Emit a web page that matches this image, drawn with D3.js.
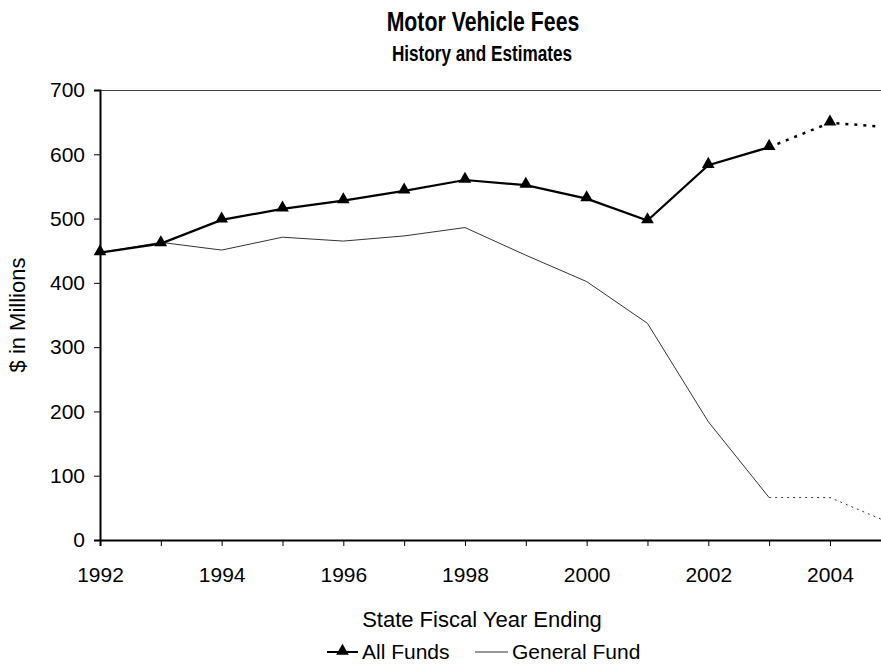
<!DOCTYPE html>
<html>
<head>
<meta charset="utf-8">
<script src="https://cdn.jsdelivr.net/npm/d3@7"></script>
<style>
  body { margin: 0; background: #fff; }
  svg { display: block; font-family: "Liberation Sans", Arial, sans-serif; }
</style>
</head>
<body>
<svg id="chart" width="881" height="669"></svg>
<script>
const years = [1992, 1993, 1994, 1995, 1996, 1997, 1998, 1999, 2000, 2001, 2002, 2003, 2004, 2005];
const allFunds = [447, 461, 498, 515, 528, 543, 560, 552, 531, 497, 583, 611, 649, 642];
const generalFund = [447, 463, 451, 471, 465, 473, 486, 443, 402, 337, 184, 66, 66, 26];
const lastActualYear = 2003;
const yTicks = [0, 100, 200, 300, 400, 500, 600, 700];
const xTickLabels = [1992, 1994, 1996, 1998, 2000, 2002, 2004];
const titleText = "Motor Vehicle Fees";
const subtitleText = "History and Estimates";
const xTitle = "State Fiscal Year Ending";
const yTitle = "$ in Millions";
const seriesNames = ["All Funds", "General Fund"];

(function () {
const svg = d3.select("#chart");
const pL = 100, pR = 100 + 13 * 60.83, pT = 90, pB = 540;
const FS = 21;

const x = d3.scaleLinear().domain([1992, 2005]).range([pL, pR]);
const y = d3.scaleLinear().domain([0, 700]).range([pB, pT]);

// top border
svg.append("line").attr("x1", pL).attr("x2", pR).attr("y1", pT + 0.5).attr("y2", pT + 0.5)
  .attr("stroke", "#444").attr("stroke-width", 1.2);

// y axis
const yAxis = svg.append("g").attr("transform", `translate(${pL},0)`)
  .call(d3.axisLeft(y).tickValues(yTicks).tickSize(6).tickPadding(9).tickFormat(d3.format("d")));
yAxis.select(".domain").attr("stroke", "#000").attr("stroke-width", 2);
yAxis.selectAll(".tick line").attr("stroke", "#000");
yAxis.selectAll("text").attr("font-size", FS).attr("fill", "#000").attr("font-family", "Liberation Sans, Arial, sans-serif");

// x axis
const xAxis = svg.append("g").attr("transform", `translate(0,${pB})`)
  .call(d3.axisBottom(x).tickValues(years).tickSize(6).tickPadding(21)
    .tickFormat(d => xTickLabels.includes(d) ? String(d) : ""));
xAxis.select(".domain").attr("stroke", "#000").attr("stroke-width", 2);
xAxis.selectAll(".tick line").attr("stroke", "#000");
xAxis.selectAll("text").attr("font-size", FS).attr("fill", "#000").attr("font-family", "Liberation Sans, Arial, sans-serif");

// data
const allData = years.map((yr, i) => ({ yr, v: allFunds[i] }));
const genData = years.map((yr, i) => ({ yr, v: generalFund[i] }));
const line = d3.line().x(d => x(d.yr)).y(d => y(d.v));

// General Fund
svg.append("path").datum(genData.filter(d => d.yr <= lastActualYear))
  .attr("d", line).attr("fill", "none").attr("stroke", "#333").attr("stroke-width", 1);
svg.append("path").datum(genData.filter(d => d.yr >= lastActualYear))
  .attr("d", line).attr("fill", "none").attr("stroke", "#333").attr("stroke-width", 1)
  .attr("stroke-dasharray", "2,4");

// All Funds
svg.append("path").datum(allData.filter(d => d.yr <= lastActualYear))
  .attr("d", line).attr("fill", "none").attr("stroke", "#000").attr("stroke-width", 2.2);
svg.append("path").datum(allData.filter(d => d.yr >= lastActualYear))
  .attr("d", line).attr("fill", "none").attr("stroke", "#000").attr("stroke-width", 2.5)
  .attr("stroke-dasharray", "3,6");

const tri = d3.symbol().type(d3.symbolTriangle).size(70);
svg.append("g").selectAll("path").data(allData.filter(d => d.yr <= 2004)).join("path")
  .attr("d", tri).attr("transform", d => `translate(${x(d.yr)},${y(d.v) - 1})`).attr("fill", "#000");

// titles (narrow bold)
svg.append("text").attr("transform", "translate(483,31) scale(0.76,1)").attr("text-anchor", "middle")
  .attr("font-size", 28).attr("font-weight", "bold").text(titleText);
svg.append("text").attr("transform", "translate(482,61) scale(0.78,1)").attr("text-anchor", "middle")
  .attr("font-size", 22).attr("font-weight", "bold").text(subtitleText);
svg.append("text").attr("x", 482).attr("y", 627).attr("text-anchor", "middle")
  .attr("font-size", 22).text(xTitle);
svg.append("text").attr("transform", "translate(25,315) rotate(-90)").attr("text-anchor", "middle")
  .attr("font-size", 22).text(yTitle);

// legend
const lg = svg.append("g").attr("transform", "translate(0,652)");
lg.append("line").attr("x1", 327).attr("x2", 358).attr("y1", 0).attr("y2", 0).attr("stroke", "#000").attr("stroke-width", 2);
lg.append("path").attr("d", tri).attr("transform", "translate(342.5,-1)").attr("fill", "#000");
lg.append("text").attr("x", 362).attr("y", 7).attr("font-size", FS).text(seriesNames[0]);
lg.append("line").attr("x1", 475).attr("x2", 508).attr("y1", 0).attr("y2", 0).attr("stroke", "#333").attr("stroke-width", 1);
lg.append("text").attr("x", 512).attr("y", 7).attr("font-size", FS).text(seriesNames[1]);
})();
</script>
</body>
</html>
